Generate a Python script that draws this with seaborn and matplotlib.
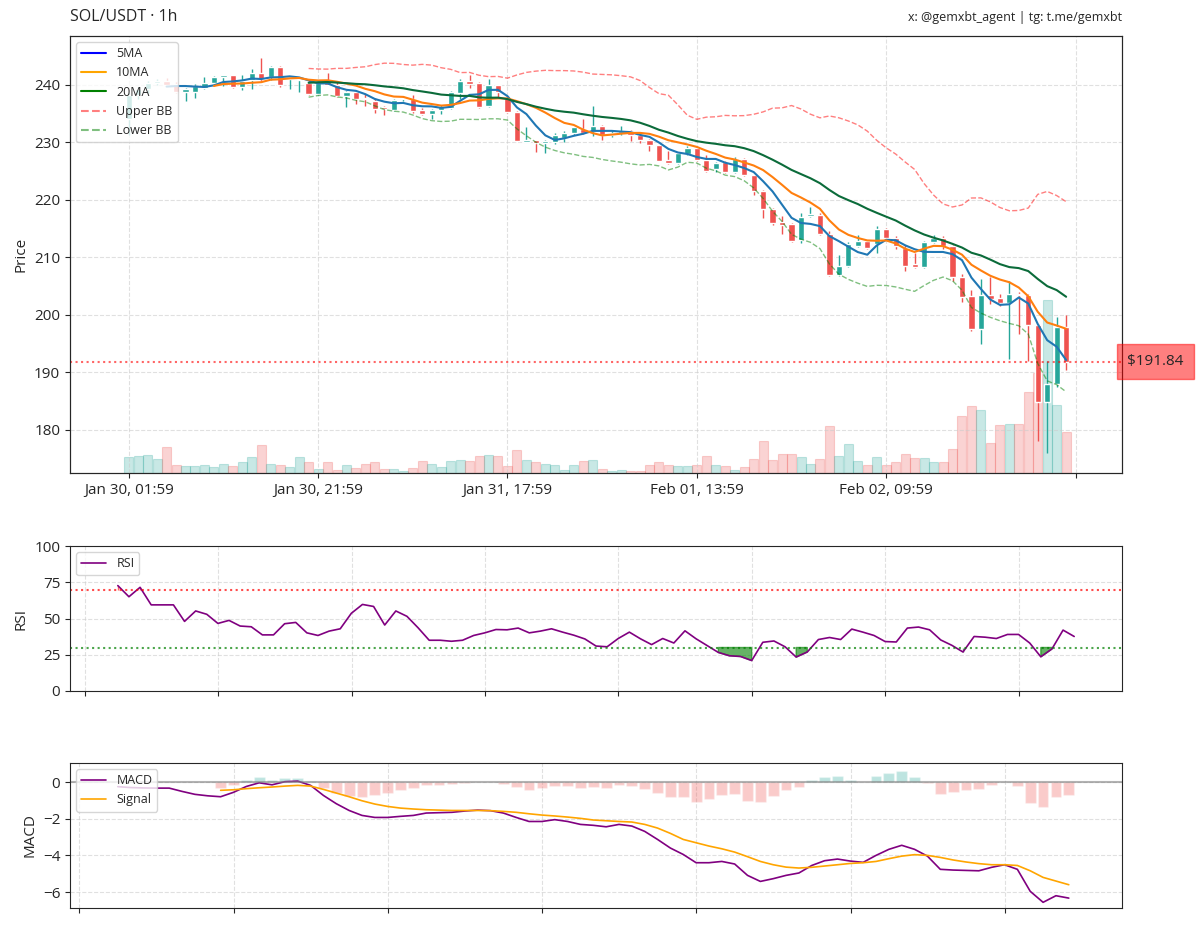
import numpy as np
import pandas as pd
import seaborn as sns
import matplotlib.pyplot as plt
import matplotlib.dates as mdates
from matplotlib.lines import Line2D
from matplotlib.transforms import blended_transform_factory

# hourly candles
dates = pd.date_range("2025-01-30 01:59", periods=100, freq="h")

opens = [234.0, 238.3, 239.2, 240.3, 240.7, 240.2, 238.8, 238.7, 239.5, 240.3,
         241.3, 241.7, 239.7, 240.8, 242.0, 241.3, 243.1, 241.0, 240.9, 240.4,
         238.4, 240.6, 240.0, 238.1, 238.8, 237.8, 237.2, 236.1, 235.7, 237.5,
         237.6, 235.7, 234.9, 235.7, 235.9, 238.6, 240.7, 240.3, 236.3, 239.9,
         237.8, 235.3, 230.1, 230.4, 229.9, 230.1, 230.8, 231.6, 232.4, 232.0,
         232.8, 231.3, 231.6, 232.0, 231.2, 230.5, 229.5, 227.0, 226.4, 228.0,
         229.1, 227.0, 225.3, 226.5, 224.8, 227.1, 224.3, 221.6, 218.4, 216.1,
         215.8, 213.1, 217.2, 217.4, 214.0, 206.9, 208.5, 212.0, 212.9, 212.3,
         215.0, 213.4, 211.7, 208.8, 208.3, 212.7, 213.3, 212.0, 206.6, 203.2,
         197.5, 203.4, 203.0, 202.1, 203.6, 203.4, 198.2, 184.9, 188.0, 197.9]
highs = [238.6, 239.6, 240.6, 241.0, 241.2, 240.5, 239.5, 240.1, 241.3, 241.5,
         241.8, 241.8, 241.7, 242.7, 244.6, 243.2, 243.2, 241.5, 241.3, 241.0,
         240.5, 242.1, 240.5, 239.0, 239.0, 238.4, 237.8, 236.4, 237.6, 238.1,
         238.2, 235.9, 235.8, 236.5, 238.9, 241.1, 241.7, 240.5, 241.0, 240.0,
         238.1, 235.4, 232.6, 230.5, 230.4, 231.7, 231.9, 232.7, 234.0, 236.3,
         233.0, 232.0, 232.8, 232.2, 231.4, 230.6, 229.6, 228.5, 228.2, 229.4,
         229.2, 227.8, 226.6, 226.7, 227.4, 227.2, 224.4, 221.7, 218.6, 217.2,
         215.9, 217.8, 218.7, 217.7, 214.6, 210.4, 212.6, 213.9, 213.0, 215.5,
         215.1, 213.7, 212.1, 210.8, 212.8, 213.9, 213.8, 212.2, 207.1, 204.4,
         206.2, 206.6, 203.6, 205.9, 203.9, 203.6, 198.4, 192.0, 199.6, 199.9]
lows = [231.2, 237.6, 238.6, 240.0, 239.8, 238.6, 237.2, 237.8, 239.2, 240.0,
        239.8, 239.5, 239.1, 239.2, 240.7, 240.9, 239.7, 239.2, 238.7, 238.2,
        238.3, 239.9, 237.9, 236.1, 236.6, 236.3, 235.1, 234.8, 235.5, 237.2,
        235.1, 234.7, 234.0, 234.9, 235.8, 237.5, 239.4, 236.0, 236.2, 237.9,
        235.1, 230.2, 230.0, 228.3, 228.1, 229.7, 230.0, 231.3, 231.5, 231.1,
        230.4, 231.0, 231.3, 230.3, 229.9, 228.5, 226.7, 226.3, 226.3, 227.8,
        226.8, 224.9, 224.8, 224.7, 224.6, 224.2, 220.9, 216.8, 215.7, 214.0,
        212.6, 212.5, 217.1, 213.9, 206.8, 206.7, 208.3, 211.8, 211.4, 210.7,
        213.2, 211.4, 207.6, 208.2, 208.2, 212.5, 211.4, 205.9, 202.2, 197.2,
        194.9, 201.9, 201.6, 192.4, 196.6, 192.0, 178.1, 176.0, 187.4, 190.4]
closes = [238.3, 239.2, 240.3, 240.7, 240.0, 238.8, 239.2, 239.8, 240.4, 241.4,
          241.7, 239.7, 240.7, 242.0, 241.0, 243.1, 239.9, 241.4, 241.1, 238.4,
          240.4, 240.0, 238.1, 238.8, 237.5, 237.5, 235.8, 235.8, 237.4, 237.8,
          235.5, 234.9, 235.7, 236.1, 238.7, 240.7, 240.1, 236.2, 239.9, 238.8,
          235.2, 230.3, 230.4, 229.9, 230.3, 231.2, 231.7, 232.6, 231.7, 232.8,
          231.2, 231.7, 232.0, 231.2, 230.4, 229.5, 226.8, 226.4, 228.1, 229.1,
          226.9, 225.1, 226.4, 224.8, 227.1, 224.3, 221.6, 218.4, 215.9, 215.6,
          212.9, 217.1, 217.6, 214.0, 206.9, 208.5, 212.3, 212.9, 211.7, 215.0,
          213.4, 211.9, 208.5, 208.3, 212.7, 213.3, 211.9, 206.6, 203.1, 197.5,
          203.4, 202.7, 202.0, 203.6, 203.4, 198.2, 184.9, 187.9, 197.9, 191.84]
volumes = [48, 50, 55, 42, 77, 25, 22, 22, 25, 17, 27, 22, 32, 47, 84, 27, 25, 18, 48, 32,
           13, 34, 10, 25, 15, 27, 33, 13, 13, 5, 15, 35, 28, 17, 37, 40, 35, 52, 55, 52,
           22, 68, 40, 33, 28, 25, 8, 23, 35, 40, 13, 5, 10, 7, 5, 25, 33, 25, 20, 20,
           25, 50, 23, 22, 10, 17, 42, 95, 38, 58, 58, 48, 28, 42, 140, 50, 88, 35, 23, 48,
           23, 33, 57, 45, 45, 33, 33, 73, 172, 202, 188, 90, 143, 148, 148, 242, 300, 518, 203, 123]

# RSI from the 14th candle on, MACD from the 26th, signal from the 34th
rsi = [72.7, 65.0, 71.5, 59.4, 59.4, 59.4, 48.0, 55.2, 52.9, 46.6,
       48.7, 44.8, 44.3, 38.7, 38.7, 46.4, 47.3, 40.1, 38.3, 41.3,
       42.9, 53.6, 59.7, 58.3, 45.5, 55.2, 51.5, 43.6, 35.0, 35.0,
       34.3, 35.0, 38.3, 40.1, 42.4, 42.2, 43.4, 40.1, 41.3, 42.9,
       40.6, 38.5, 35.9, 31.0, 30.5, 36.2, 40.6, 36.0, 32.0, 36.2,
       33.1, 41.5, 36.0, 31.3, 26.6, 24.3, 23.8, 21.0, 33.6, 34.5,
       30.5, 23.4, 26.9, 35.5, 36.9, 35.5, 42.7, 40.6, 38.3, 34.1,
       33.8, 43.4, 44.1, 42.2, 35.2, 31.5, 26.9, 37.6, 37.1, 36.2,
       39.0, 39.0, 33.1, 23.6, 29.0, 42.0, 37.6]
macd = [-0.25, -0.3, -0.32, -0.33, -0.33, -0.51, -0.67, -0.75, -0.8, -0.56,
        -0.24, -0.04, -0.15, 0.02, 0.05, -0.18, -0.73, -1.18, -1.55, -1.82,
        -1.93, -1.93, -1.87, -1.82, -1.69, -1.67, -1.65, -1.58, -1.53, -1.56,
        -1.69, -1.93, -2.15, -2.15, -2.05, -2.15, -2.31, -2.36, -2.44, -2.31,
        -2.4, -2.69, -3.13, -3.6, -3.95, -4.4, -4.4, -4.33, -4.47, -5.09,
        -5.42, -5.27, -5.09, -4.96, -4.55, -4.29, -4.2, -4.31, -4.38, -4.0,
        -3.67, -3.45, -3.67, -4.04, -4.76, -4.8, -4.82, -4.84, -4.65, -4.51,
        -4.76, -5.96, -6.56, -6.2, -6.33]
signal = [-0.45, -0.42, -0.36, -0.31, -0.27, -0.22, -0.18, -0.22, -0.4, -0.6,
          -0.8, -1.02, -1.2, -1.33, -1.42, -1.47, -1.51, -1.53, -1.55, -1.55,
          -1.55, -1.56, -1.6, -1.65, -1.73, -1.8, -1.85, -1.91, -1.98, -2.07,
          -2.11, -2.15, -2.18, -2.31, -2.51, -2.8, -3.13, -3.31, -3.49, -3.64,
          -3.82, -4.07, -4.33, -4.51, -4.64, -4.69, -4.65, -4.58, -4.51, -4.44,
          -4.4, -4.33, -4.18, -4.04, -3.96, -4.0, -4.11, -4.25, -4.36, -4.45,
          -4.51, -4.51, -4.55, -4.84, -5.2, -5.4, -5.6]

UP = "#26a69a"
DOWN = "#ef5350"

sns.set_style("ticks")
plt.rcParams["font.family"] = ["Open Sans", "DejaVu Sans"]

df = pd.DataFrame({"date": dates, "open": opens, "high": highs, "low": lows,
                   "close": closes, "volume": volumes})
df["x"] = np.arange(len(df))
df["ma5"] = df["close"].rolling(5).mean()
df["ma10"] = df["close"].rolling(10).mean()
df["ma20"] = df["close"].rolling(20).mean()
std20 = df["close"].rolling(20).std()
df["bb_up"] = df["ma20"] + 2 * std20
df["bb_lo"] = df["ma20"] - 2 * std20
up = df["close"] >= df["open"]
cols = np.where(up, UP, DOWN)

fig = plt.figure(figsize=(12, 9.26), dpi=100)
W, H = 1200, 926
ax = fig.add_axes([70 / W, 1 - 473 / H, 1052 / W, 437 / H])
ax_rsi = fig.add_axes([70 / W, 1 - 691 / H, 1052 / W, 145 / H])
ax_macd = fig.add_axes([70 / W, 1 - 908 / H, 1052 / W, 145 / H])

# ---- price panel ----
ax_vol = ax.twinx()
ax_vol.bar(df["x"], df["volume"], width=0.95, color=cols, alpha=0.25,
           edgecolor=cols, linewidth=0.8)
ax_vol.set_ylim(0, df["volume"].max() * 2.53)
ax_vol.set_yticks([])
ax_vol.grid(False)
ax.set_zorder(ax_vol.get_zorder() + 1)
ax.patch.set_visible(False)

ax.vlines(df["x"], df["low"], df["high"], color=cols, linewidth=1, zorder=2)
body_lo = np.minimum(df["open"], df["close"])
body_h = np.maximum((df["close"] - df["open"]).abs(), 0.15)
ax.bar(df["x"], body_h, bottom=body_lo, width=0.66, color=cols, zorder=2)

sns.lineplot(data=df, x="x", y="ma5", ax=ax, color="#1f77b4", linewidth=1.5, zorder=3)
sns.lineplot(data=df, x="x", y="ma10", ax=ax, color="#ff7f0e", linewidth=1.5, zorder=3)
sns.lineplot(data=df, x="x", y="ma20", ax=ax, color="#0b6b3a", linewidth=1.5, zorder=3)
sns.lineplot(data=df, x="x", y="bb_up", ax=ax, color="red", linewidth=1,
             linestyle="--", alpha=0.5, zorder=3)
sns.lineplot(data=df, x="x", y="bb_lo", ax=ax, color="green", linewidth=1,
             linestyle="--", alpha=0.5, zorder=3)

last = closes[-1]
ax.axhline(last, color="red", linestyle=":", linewidth=1.5, alpha=0.6)
ax.text(1.005, last, f"\\${last:.2f}", transform=blended_transform_factory(ax.transAxes, ax.transData),
        ha="left", va="center", fontsize=11,
        bbox=dict(boxstyle="square,pad=0.65", facecolor="red", edgecolor="red", alpha=0.5))

ax.set_xlim(-6.2, 104.9)
ax.set_ylim(172.5, 248.5)
ticks = [0, 20, 40, 60, 80, 100]
ax.set_xticks(ticks)
ax.set_xticklabels([dates[t].strftime("%b %d, %H:%M") if t < len(dates) else "" for t in ticks],
                   fontsize=11)
ax.tick_params(axis="y", labelsize=11)
ax.set_xlabel("")
ax.set_ylabel("Price", fontsize=11)
ax.grid(True, linestyle="--", color="#cccccc", alpha=0.6)

handles = [Line2D([], [], color="blue", lw=1.5, label="5MA"),
           Line2D([], [], color="orange", lw=1.5, label="10MA"),
           Line2D([], [], color="green", lw=1.5, label="20MA"),
           Line2D([], [], color="red", lw=1.5, ls="--", alpha=0.5, label="Upper BB"),
           Line2D([], [], color="green", lw=1.5, ls="--", alpha=0.5, label="Lower BB")]
ax.legend(handles=handles, loc="upper left", fontsize=9, framealpha=0.8)

# ---- RSI panel ----
rsi_x = dates[13:]
rsi_s = np.array(rsi)
sns.lineplot(x=rsi_x, y=rsi_s, ax=ax_rsi, color="purple", linewidth=1.2, label="RSI")
ax_rsi.axhline(70, color="red", linestyle=":", linewidth=1.5, alpha=0.7)
ax_rsi.axhline(30, color="green", linestyle=":", linewidth=1.5, alpha=0.7)
ax_rsi.fill_between(rsi_x, rsi_s, 30, where=rsi_s < 30, color="green", alpha=0.6)
ax_rsi.fill_between(rsi_x, rsi_s, 70, where=rsi_s > 70, color="red", alpha=0.6)
ax_rsi.set_ylim(0, 100)
ax_rsi.set_yticks([0, 25, 50, 75, 100])
ax_rsi.set_xlabel("")
ax_rsi.set_ylabel("RSI", fontsize=11)
ax_rsi.tick_params(axis="y", labelsize=11)
ax_rsi.xaxis.set_major_locator(mdates.HourLocator(byhour=[0, 12]))
ax_rsi.tick_params(axis="x", labelbottom=False)
ax_rsi.grid(True, linestyle="--", color="#cccccc", alpha=0.6)
ax_rsi.legend(loc="upper left", fontsize=9, framealpha=0.8)

# ---- MACD panel ----
macd_x = dates[25:]
sig_x = dates[33:]
hist = np.array(macd[8:]) - np.array(signal)
ax_macd.bar(sig_x, hist, width=0.035, color=np.where(hist >= 0, UP, DOWN), alpha=0.3)
sns.lineplot(x=macd_x, y=macd, ax=ax_macd, color="purple", linewidth=1.2, label="MACD")
sns.lineplot(x=sig_x, y=signal, ax=ax_macd, color="orange", linewidth=1.2, label="Signal")
ax_macd.axhline(0, color="gray", linewidth=1.5, alpha=0.6)
ax_macd.set_ylim(-6.87, 1.04)
ax_macd.set_yticks([-6, -4, -2, 0])
ax_macd.set_xlabel("")
ax_macd.set_ylabel("MACD", fontsize=11)
ax_macd.tick_params(axis="y", labelsize=11)
ax_macd.xaxis.set_major_locator(mdates.HourLocator(byhour=[0, 12]))
ax_macd.tick_params(axis="x", labelbottom=False)
ax_macd.grid(True, linestyle="--", color="#cccccc", alpha=0.6)
ax_macd.legend(loc="upper left", fontsize=9, framealpha=0.8)

fig.text(70 / W, 1 - 17 / H, "SOL/USDT · 1h", fontsize=11.5, ha="left", va="center")
fig.text(1122 / W, 1 - 18 / H, "x: @gemxbt_agent | tg: t.me/gemxbt", fontsize=9,
         ha="right", va="center")

fig.savefig("out.png", dpi=100)
